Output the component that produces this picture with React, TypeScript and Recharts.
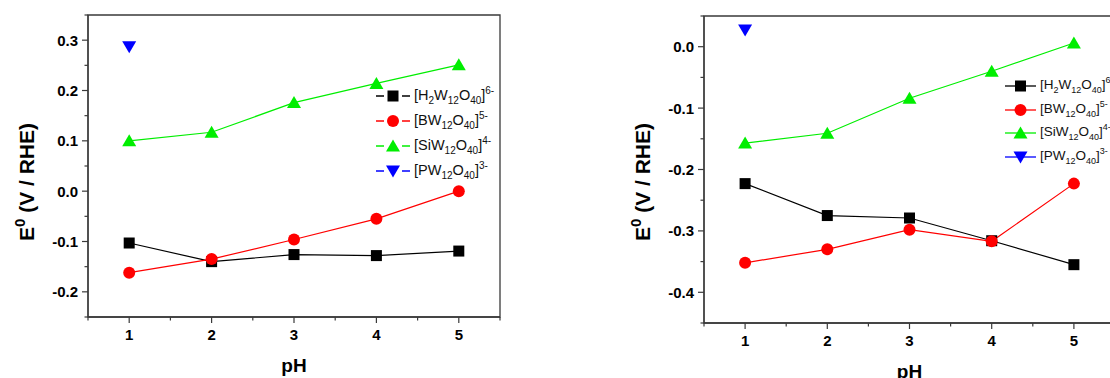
import React from "react";
import { LineChart, Line, XAxis, YAxis, ReferenceArea, Legend } from "recharts";

const PH = [1, 2, 3, 4, 5];

// left panel
const H2W_LEFT = [-0.103, -0.14, -0.126, -0.128, -0.119];
const BW_LEFT = [-0.162, -0.135, -0.096, -0.055, 0.0];
const SIW_LEFT = [0.1, 0.117, 0.176, 0.214, 0.251];
const PW_LEFT = [0.287, null, null, null, null];

// right panel
const H2W_RIGHT = [-0.223, -0.275, -0.279, -0.316, -0.355];
const BW_RIGHT = [-0.352, -0.33, -0.298, -0.317, -0.223];
const SIW_RIGHT = [-0.157, -0.141, -0.084, -0.04, 0.006];
const PW_RIGHT = [0.027, null, null, null, null];

const X_MAJOR = [1, 2, 3, 4, 5];
const X_TICKS = [0.5, 1, 1.5, 2, 2.5, 3, 3.5, 4, 4.5, 5, 5.5];
const Y_MAJOR_LEFT = [-0.2, -0.1, 0.0, 0.1, 0.2, 0.3];
const Y_TICKS_LEFT = [-0.25, -0.2, -0.15, -0.1, -0.05, 0.0, 0.05, 0.1, 0.15, 0.2, 0.25, 0.3, 0.35];
const Y_MAJOR_RIGHT = [-0.4, -0.3, -0.2, -0.1, 0.0];
const Y_TICKS_RIGHT = [-0.45, -0.4, -0.35, -0.3, -0.25, -0.2, -0.15, -0.1, -0.05, 0.0, 0.05];

type Token = [string, "" | "sub" | "sup"];

const SERIES = [
  {
    key: "h2w",
    color: "#000000",
    shape: "square",
    name: [["[H", ""], ["2", "sub"], ["W", ""], ["12", "sub"], ["O", ""], ["40", "sub"], ["]", ""], ["6-", "sup"]] as Token[],
  },
  {
    key: "bw",
    color: "#ff0000",
    shape: "circle",
    name: [["[BW", ""], ["12", "sub"], ["O", ""], ["40", "sub"], ["]", ""], ["5-", "sup"]] as Token[],
  },
  {
    key: "siw",
    color: "#00ee00",
    shape: "up",
    name: [["[SiW", ""], ["12", "sub"], ["O", ""], ["40", "sub"], ["]", ""], ["4-", "sup"]] as Token[],
  },
  {
    key: "pw",
    color: "#0000ff",
    shape: "down",
    name: [["[PW", ""], ["12", "sub"], ["O", ""], ["40", "sub"], ["]", ""], ["3-", "sup"]] as Token[],
  },
];

const FONT = "'Liberation Sans', Arial, sans-serif";
const AXIS = "#3a3a3a";

function Marker({ shape, cx, cy, color }: { shape: string; cx: number; cy: number; color: string }) {
  if (shape === "square") return <rect x={cx - 5.5} y={cy - 5.5} width={11} height={11} fill={color} />;
  if (shape === "circle") return <circle cx={cx} cy={cy} r={6} fill={color} />;
  if (shape === "up")
    return <polygon points={`${cx},${cy - 6.5} ${cx + 7},${cy + 5.5} ${cx - 7},${cy + 5.5}`} fill={color} />;
  return <polygon points={`${cx - 7},${cy - 5.5} ${cx + 7},${cy - 5.5} ${cx},${cy + 6.5}`} fill={color} />;
}

const isMajor = (v: number, majors: number[]) => majors.some((m) => Math.abs(m - v) < 1e-9);

const renderYTick = (majors: number[]) => (p: any) => {
  const { x, y, payload } = p;
  const major = isMajor(payload.value, majors);
  return (
    <g>
      <line x1={x} x2={x - (major ? 6 : 3.5)} y1={y} y2={y} stroke={AXIS} strokeWidth={1.2} />
      {major && (
        <text x={x - 10} y={y} textAnchor="end" dominantBaseline="central" fontFamily={FONT} fontWeight="bold" fontSize={15} fill="#000">
          {payload.value.toFixed(1)}
        </text>
      )}
    </g>
  );
};

const renderXTick = (p: any) => {
  const { x, y, payload } = p;
  const major = isMajor(payload.value, X_MAJOR);
  return (
    <g>
      <line x1={x} x2={x} y1={y} y2={y + (major ? 6 : 3.5)} stroke={AXIS} strokeWidth={1.2} />
      {major && (
        <text x={x} y={y + 17.5} textAnchor="middle" dominantBaseline="central" fontFamily={FONT} fontWeight="bold" fontSize={15} fill="#000">
          {payload.value}
        </text>
      )}
    </g>
  );
};

const yTitle = (p: any) => {
  const vb = p.viewBox;
  const x = vb.x + 26;
  const y = 182;
  return (
    <text x={x} y={y} transform={`rotate(-90 ${x} ${y})`} textAnchor="middle" dominantBaseline="central" fontFamily={FONT} fontWeight="bold" fontSize={21} fill="#000">
      E<tspan fontSize={15} dy={-7}>0</tspan>
      <tspan dy={7}> (V / RHE)</tspan>
    </text>
  );
};

const xTitle = (p: any) => {
  const vb = p.viewBox;
  return (
    <text x={vb.x + vb.width / 2} y={vb.y + 48} textAnchor="middle" dominantBaseline="central" fontFamily={FONT} fontWeight="bold" fontSize={19} fill="#000">
      pH
    </text>
  );
};

function LegendBox({ rowH, lineW, gap, fs, sfs }: { rowH: number; lineW: number; gap: boolean; fs: number; sfs: number }) {
  const mid = lineW / 2;
  return (
    <div style={{ fontFamily: FONT, fontSize: fs, color: "#111" }}>
      {SERIES.map((s) => (
        <div key={s.key} style={{ display: "flex", alignItems: "center", height: rowH, whiteSpace: "nowrap" }}>
          <svg width={lineW} height={16} style={{ display: "block" }}>
            {gap ? (
              <>
                <line x1={0} x2={mid - 9} y1={8} y2={8} stroke={s.color} strokeWidth={1.5} />
                <line x1={mid + 9} x2={lineW} y1={8} y2={8} stroke={s.color} strokeWidth={1.5} />
              </>
            ) : (
              <line x1={0} x2={lineW} y1={8} y2={8} stroke={s.color} strokeWidth={1.3} />
            )}
            <Marker shape={s.shape} cx={mid} cy={8} color={s.color} />
          </svg>
          <span style={{ marginLeft: 4, lineHeight: `${fs}px` }}>
            {s.name.map(([t, k], i) => (
              <span
                key={i}
                style={
                  k === "sub"
                    ? { fontSize: sfs, position: "relative", top: 4 }
                    : k === "sup"
                    ? { fontSize: sfs, position: "relative", top: -6 }
                    : undefined
                }
              >
                {t}
              </span>
            ))}
          </span>
        </div>
      ))}
    </div>
  );
}

function Panel(props: {
  width: number;
  top: number;
  xAxisH: number;
  data: any[];
  yDomain: [number, number];
  yTicks: number[];
  yMajor: number[];
  legendLeft: number;
  legendTop: number;
  rowH: number;
  lineW: number;
  gap: boolean;
  fs: number;
  sfs: number;
}) {
  const { width, top, xAxisH, data, yDomain, yTicks, yMajor } = props;
  return (
    <LineChart width={width} height={378} data={data} margin={{ top, right: 20, bottom: 0, left: 0 }}>
      <XAxis
        dataKey="x"
        type="number"
        domain={[0.5, 5.5]}
        ticks={X_TICKS}
        interval={0}
        height={xAxisH}
        tickSize={0}
        tickMargin={0}
        tick={renderXTick}
        axisLine={{ stroke: AXIS, strokeWidth: 1.3 }}
        tickLine={false}
        label={{ content: xTitle }}
      />
      <YAxis
        type="number"
        domain={yDomain}
        ticks={yTicks}
        interval={0}
        width={88}
        tickSize={0}
        tickMargin={0}
        tick={renderYTick(yMajor)}
        axisLine={{ stroke: AXIS, strokeWidth: 1.3 }}
        tickLine={false}
        allowDataOverflow
        label={{ content: yTitle }}
      />
      <ReferenceArea x1={0.5} x2={5.5} y1={yDomain[0]} y2={yDomain[1]} fill="none" stroke={AXIS} strokeWidth={1.3} ifOverflow="visible" />
      {SERIES.map((s) => (
        <Line
          key={s.key}
          dataKey={s.key}
          stroke={s.color}
          strokeWidth={1.2}
          isAnimationActive={false}
          activeDot={false}
          dot={(p: any) =>
            p.cy == null || p.cx == null ? (
              <g key={p.index} />
            ) : (
              <Marker key={p.index} shape={s.shape} cx={p.cx} cy={p.cy} color={s.color} />
            )
          }
        />
      ))}
      <Legend
        layout="horizontal"
        verticalAlign="middle"
        align="center"
        wrapperStyle={{ left: props.legendLeft, top: props.legendTop, width: 170 }}
        content={() => <LegendBox rowH={props.rowH} lineW={props.lineW} gap={props.gap} fs={props.fs} sfs={props.sfs} />}
      />
    </LineChart>
  );
}

export default function App() {
  const leftData = PH.map((x, i) => ({ x, h2w: H2W_LEFT[i], bw: BW_LEFT[i], siw: SIW_LEFT[i], pw: PW_LEFT[i] }));
  const rightData = PH.map((x, i) => ({ x, h2w: H2W_RIGHT[i], bw: BW_RIGHT[i], siw: SIW_RIGHT[i], pw: PW_RIGHT[i] }));
  return (
    <div style={{ position: "absolute", left: 0, top: 0, width: 1110, height: 378, overflow: "hidden", background: "#fff" }}>
      <div style={{ position: "absolute", left: 0, top: 0 }}>
        <Panel
          width={520}
          top={15}
          xAxisH={61}
          data={leftData}
          yDomain={[-0.25, 0.35]}
          yTicks={Y_TICKS_LEFT}
          yMajor={Y_MAJOR_LEFT}
          legendLeft={376}
          legendTop={83.5}
          rowH={25}
          lineW={34}
          gap={true}
          fs={14.5}
          sfs={10}
        />
      </div>
      <div style={{ position: "absolute", left: 616, top: 0 }}>
        <Panel
          width={519}
          top={16}
          xAxisH={55}
          data={rightData}
          yDomain={[-0.45, 0.05]}
          yTicks={Y_TICKS_RIGHT}
          yMajor={Y_MAJOR_RIGHT}
          legendLeft={389}
          legendTop={74.2}
          rowH={23.6}
          lineW={31}
          gap={false}
          fs={13.5}
          sfs={9}
        />
      </div>
    </div>
  );
}
